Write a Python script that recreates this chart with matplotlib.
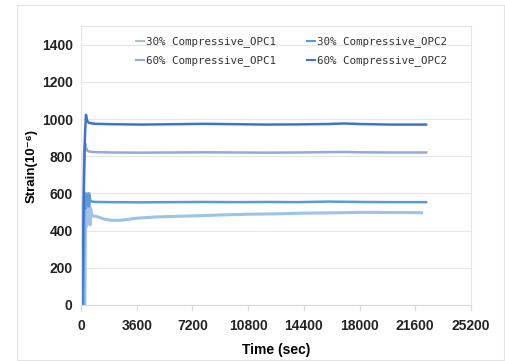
import matplotlib as mpl
mpl.use('Agg')
from matplotlib import pyplot as plt
from matplotlib.patches import Rectangle

# data (time in sec, strain in 1e-6)
t_30_1 = [0, 250, 300, 340, 380, 420, 460, 500, 540, 580, 620, 700, 800, 1000, 1500,
          2000, 2500, 3000, 3600, 5000, 7200, 9000, 10800, 12600, 14400, 16000, 18000,
          19000, 20000, 21000, 22000]
s_30_1 = [0, 0, 600, 420, 580, 440, 560, 450, 600, 430, 520, 480, 478, 476, 462,
          455, 455, 460, 467, 474, 479, 484, 488, 490, 494, 495, 498,
          498, 497, 497, 496]

t_30_2 = [0, 150, 220, 260, 300, 350, 400, 450, 500, 550, 600, 700, 800, 1000, 2000,
          4000, 6000, 8000, 10000, 12000, 14000, 16000, 18000, 20000, 22300]
s_30_2 = [0, 0, 550, 600, 520, 590, 540, 600, 530, 590, 560, 557, 555, 554, 553,
          552, 553, 554, 553, 554, 553, 556, 554, 553, 553]

t_60_1 = [0, 100, 200, 260, 320, 400, 500, 700, 1000, 2000, 4000, 6000, 8000, 10000,
          12000, 14000, 16000, 17000, 18000, 20000, 22300]
s_60_1 = [0, 200, 820, 870, 850, 830, 826, 823, 822, 820, 819, 820, 821, 820,
          819, 820, 822, 823, 821, 820, 820]

t_60_2 = [0, 60, 150, 250, 320, 400, 500, 700, 1000, 2000, 4000, 6000, 8000, 10000,
          12000, 14000, 16000, 17000, 18000, 20000, 22300]
s_60_2 = [0, 0, 450, 900, 1022, 990, 980, 976, 974, 972, 970, 972, 974, 972,
          970, 971, 973, 976, 973, 970, 970]

labels = ['30% Compressive_OPC1', '30% Compressive_OPC2',
          '60% Compressive_OPC1', '60% Compressive_OPC2']
colors = ['#9dc3e6', '#5b9bd5', '#8faadc', '#4472c4']
x_ticks = [0, 3600, 7200, 10800, 14400, 18000, 21600, 25200]
y_ticks = [0, 200, 400, 600, 800, 1000, 1200, 1400]

plt.rcParams['font.family'] = ['Liberation Sans', 'DejaVu Sans']

fig = plt.figure(figsize=(5.06, 3.61), dpi=100)
fig.patches.append(Rectangle((17/506, 1/361), 487/506, 355/361, transform=fig.transFigure,
                             fill=False, edgecolor='#e3e3e3', lw=0.8))
ax = fig.add_axes([81/506, 1 - 305/361, 390/506, 279/361])

l1, = ax.plot(t_30_1, s_30_1, color=colors[0], lw=2.2, label=labels[0])
l2, = ax.plot(t_30_2, s_30_2, color=colors[1], lw=1.8, label=labels[1])
l3, = ax.plot(t_60_1, s_60_1, color=colors[2], lw=1.8, label=labels[2])
l4, = ax.plot(t_60_2, s_60_2, color=colors[3], lw=1.8, label=labels[3])

ax.set_xlim(0, 25200)
ax.set_ylim(0, 1500)
ax.set_xticks(x_ticks)
ax.set_yticks(y_ticks)
ax.grid(axis='y', color='#e6e6e6', lw=0.8)
ax.set_axisbelow(True)
for sp in ax.spines.values():
    sp.set_color('#e6e6e6')
    sp.set_linewidth(0.8)
ax.spines['bottom'].set_color('#d9d9d9')
ax.tick_params(axis='y', length=0, pad=6, labelsize=10)
ax.tick_params(axis='x', length=4, color='#d9d9d9', pad=6, labelsize=10)
for lab in ax.get_xticklabels() + ax.get_yticklabels():
    lab.set_fontweight('bold')
    lab.set_color('#222222')

ax.set_xlabel('Time (sec)', fontsize=10, fontweight='bold', labelpad=7)
ax.set_ylabel('Strain(10⁻⁶)', fontsize=9.5, fontweight='bold')
ax.yaxis.set_label_coords(-0.11, 0.5)

leg = ax.legend(handles=[l1, l3, l2, l4], ncol=2, loc='upper center',
                bbox_to_anchor=(0.54, 0.978), frameon=False,
                prop={'family': 'DejaVu Sans Mono', 'size': 7.8},
                handlelength=0.75, handletextpad=0.15, columnspacing=2.9,
                labelspacing=0.75, borderaxespad=0)
for txt in leg.get_texts():
    txt.set_color('#333333')
for h in leg.get_lines():
    h.set_linewidth(1.5)

fig.savefig('out.png', dpi=100)
